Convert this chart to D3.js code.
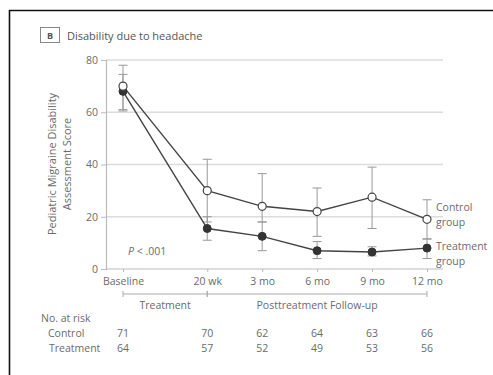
<!DOCTYPE html>
<html>
<head>
<meta charset="utf-8">
<script src="https://cdn.jsdelivr.net/npm/d3@7"></script>
<style>
  body { margin: 0; background: #fff; }
  svg text { font-family: "Open Sans", "DejaVu Sans", sans-serif; fill: #6b6b6b; }
</style>
</head>
<body>
<div id="chart"></div>
<script>
// data
var timepoints = ["Baseline", "20 wk", "3 mo", "6 mo", "9 mo", "12 mo"];
var monthsFromBaseline = [0, 4.6, 7.6, 10.6, 13.6, 16.6];

var controlMean = [70, 30, 24, 22, 27.5, 19];
var controlLow = [61, 18, 18, 12.5, 15.5, 11.5];
var controlHigh = [78, 42, 36.5, 31, 39, 26.5];

var treatmentMean = [68, 15.5, 12.5, 7, 6.5, 8];
var treatmentLow = [60.5, 11, 7, 4, 5, 4];
var treatmentHigh = [74.5, 20, 18, 10.5, 8.5, 11.5];

var controlAtRisk = [71, 70, 62, 64, 63, 66];
var treatmentAtRisk = [64, 57, 52, 49, 53, 56];

var yTicks = [0, 20, 40, 60, 80];

//svg size
var svgWidth = 493;
var svgHeight = 375;

var svg = d3.select('#chart')
  .append('svg')
  .attr('width', svgWidth)
  .attr('height', svgHeight);

//frame (left + top edges)
svg.append('path')
  .attr('d', 'M9.5,375 L9.5,10.5 L493,10.5')
  .attr('fill', 'none')
  .attr('stroke', '#111')
  .attr('stroke-width', 1.6);

//panel label + title
svg.append('rect')
  .attr('x', 40.5).attr('y', 27.5)
  .attr('width', 19).attr('height', 15)
  .attr('fill', 'none')
  .attr('stroke', '#888');
svg.append('text')
  .attr('x', 50).attr('y', 39)
  .attr('text-anchor', 'middle')
  .attr('font-size', 9)
  .attr('font-weight', 'bold')
  .style('fill', '#555')
  .text('B');
svg.append('text')
  .attr('x', 67).attr('y', 39.5)
  .attr('font-size', 11)
  .style('fill', '#555')
  .text('Disability due to headache');

//scales
var xScale = d3.scaleLinear()
  .domain([0, 16.6])
  .range([123, 427]);

var yScale = d3.scaleLinear()
  .domain([0, 80])
  .range([269, 60]);

var plotLeft = 106;
var plotRight = 443;

//gridlines
svg.append('g')
  .selectAll('line')
  .data(yTicks.filter(d => d > 0))
  .enter()
  .append('line')
  .attr('x1', plotLeft).attr('x2', plotRight)
  .attr('y1', d => yScale(d)).attr('y2', d => yScale(d))
  .attr('stroke', '#dcdcdc')
  .attr('stroke-width', 1.5);

//y axis
var yAxis = d3.axisLeft(yScale).tickValues(yTicks).tickSize(5).tickPadding(3);
var yG = svg.append('g')
  .attr('transform', `translate(${plotLeft}, 0)`)
  .call(yAxis);
yG.select('.domain').attr('stroke', '#bbb').attr('stroke-width', 1.2);
yG.selectAll('.tick line').attr('stroke', '#bbb');
yG.selectAll('.tick text').attr('font-size', 10.5).attr('font-family', null);

//x axis
var xAxis = d3.axisBottom(xScale)
  .tickValues(monthsFromBaseline)
  .tickFormat((d, i) => timepoints[i])
  .tickSize(3).tickPadding(6);
var xG = svg.append('g')
  .attr('transform', `translate(0, ${yScale(0)})`)
  .call(xAxis);
xG.select('.domain').remove();
xG.append('line')
  .attr('x1', plotLeft).attr('x2', plotRight)
  .attr('stroke', '#bbb').attr('stroke-width', 1.2);
xG.selectAll('.tick line').attr('stroke', '#bbb');
xG.selectAll('.tick text').attr('font-size', 10.5).attr('font-family', null);

//y axis title
var yTitle = svg.append('text')
  .attr('transform', 'translate(56, 164) rotate(-90)')
  .attr('text-anchor', 'middle')
  .attr('font-size', 11);
yTitle.append('tspan').attr('x', 0).attr('dy', 0).text('Pediatric Migraine Disability');
yTitle.append('tspan').attr('x', 0).attr('dy', 15).text('Assessment Score');

//error bars
function drawErrorBars(low, high) {
  var g = svg.append('g');
  g.selectAll('line.stem')
    .data(monthsFromBaseline)
    .enter()
    .append('line')
    .attr('x1', d => xScale(d)).attr('x2', d => xScale(d))
    .attr('y1', (d, i) => yScale(low[i])).attr('y2', (d, i) => yScale(high[i]))
    .attr('stroke', '#999').attr('stroke-width', 1);
  [low, high].forEach(function(arr) {
    g.selectAll(null)
      .data(monthsFromBaseline)
      .enter()
      .append('line')
      .attr('x1', d => xScale(d) - 4.5).attr('x2', d => xScale(d) + 4.5)
      .attr('y1', (d, i) => yScale(arr[i])).attr('y2', (d, i) => yScale(arr[i]))
      .attr('stroke', '#999').attr('stroke-width', 1);
  });
}
drawErrorBars(controlLow, controlHigh);
drawErrorBars(treatmentLow, treatmentHigh);

//lines
var line = d3.line()
  .x(d => xScale(d[0]))
  .y(d => yScale(d[1]));

svg.append('path')
  .datum(d3.zip(monthsFromBaseline, controlMean))
  .attr('d', line)
  .attr('fill', 'none')
  .attr('stroke', '#444')
  .attr('stroke-width', 1.4);

svg.append('path')
  .datum(d3.zip(monthsFromBaseline, treatmentMean))
  .attr('d', line)
  .attr('fill', 'none')
  .attr('stroke', '#444')
  .attr('stroke-width', 1.4);

//points
svg.append('g')
  .selectAll('circle')
  .data(d3.zip(monthsFromBaseline, treatmentMean))
  .enter()
  .append('circle')
  .attr('cx', d => xScale(d[0]))
  .attr('cy', d => yScale(d[1]))
  .attr('r', 4)
  .attr('fill', '#333')
  .attr('stroke', '#333');

svg.append('g')
  .selectAll('circle')
  .data(d3.zip(monthsFromBaseline, controlMean))
  .enter()
  .append('circle')
  .attr('cx', d => xScale(d[0]))
  .attr('cy', d => yScale(d[1]))
  .attr('r', 4)
  .attr('fill', '#fff')
  .attr('stroke', '#444')
  .attr('stroke-width', 1.2);

//series labels
var last = monthsFromBaseline.length - 1;
var labelX = xScale(monthsFromBaseline[last]) + 9;
var cLab = svg.append('text')
  .attr('y', yScale(controlMean[last]) - 8)
  .attr('font-size', 10.5);
cLab.append('tspan').attr('x', labelX).text('Control');
cLab.append('tspan').attr('x', labelX).attr('dy', 15).text('group');

var tLab = svg.append('text')
  .attr('y', yScale(treatmentMean[last]) + 2)
  .attr('font-size', 10.5);
tLab.append('tspan').attr('x', labelX).text('Treatment');
tLab.append('tspan').attr('x', labelX).attr('dy', 15).text('group');

//p value
var pText = svg.append('text')
  .attr('x', 128).attr('y', 255)
  .attr('font-size', 10.5);
pText.append('tspan').attr('font-style', 'italic').text('P');
pText.append('tspan').text(' < .001');

//phase brackets
var phases = [
  { label: 'Treatment', from: 0, to: 1 },
  { label: 'Posttreatment Follow-up', from: 1, to: last }
];
var bracketY = 294;
var bg = svg.append('g');
phases.forEach(function(p) {
  var x1 = xScale(monthsFromBaseline[p.from]);
  var x2 = xScale(monthsFromBaseline[p.to]);
  bg.append('line')
    .attr('x1', x1).attr('x2', x2)
    .attr('y1', bracketY).attr('y2', bracketY)
    .attr('stroke', '#aaa');
  [x1, x2].forEach(function(x) {
    bg.append('line')
      .attr('x1', x).attr('x2', x)
      .attr('y1', bracketY - 3).attr('y2', bracketY + 3)
      .attr('stroke', '#aaa');
  });
  bg.append('text')
    .attr('x', (x1 + x2) / 2)
    .attr('y', 309)
    .attr('text-anchor', 'middle')
    .attr('font-size', 10.5)
    .text(p.label);
});

//numbers at risk
svg.append('text')
  .attr('x', 41).attr('y', 322)
  .attr('font-size', 10.5)
  .text('No. at risk');
svg.append('text')
  .attr('x', 48).attr('y', 337)
  .attr('font-size', 10.5)
  .text('Control');
svg.append('text')
  .attr('x', 49).attr('y', 352)
  .attr('font-size', 10.5)
  .text('Treatment');

svg.append('g')
  .selectAll('text')
  .data(controlAtRisk)
  .enter()
  .append('text')
  .attr('x', (d, i) => xScale(monthsFromBaseline[i]))
  .attr('y', 337)
  .attr('text-anchor', 'middle')
  .attr('font-size', 10.5)
  .text(d => d);

svg.append('g')
  .selectAll('text')
  .data(treatmentAtRisk)
  .enter()
  .append('text')
  .attr('x', (d, i) => xScale(monthsFromBaseline[i]))
  .attr('y', 352)
  .attr('text-anchor', 'middle')
  .attr('font-size', 10.5)
  .text(d => d);
</script>
</body>
</html>
